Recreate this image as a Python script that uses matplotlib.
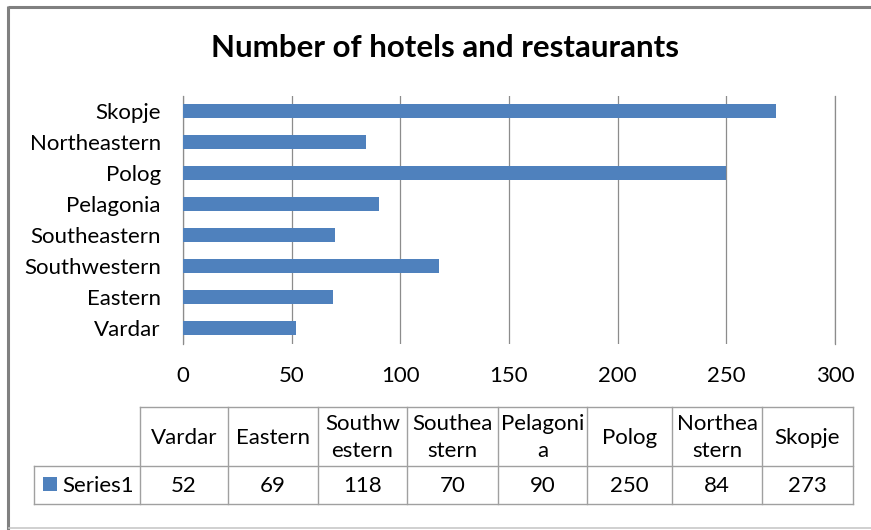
import matplotlib
matplotlib.use("Agg")
import matplotlib.pyplot as plt
from matplotlib.patches import Rectangle

categories = ["Vardar", "Eastern", "Southwestern", "Southeastern", "Pelagonia", "Polog", "Northeastern", "Skopje"]
table_headers = ["Vardar", "Eastern", "Southw\nestern", "Southea\nstern", "Pelagoni\na", "Polog", "Northea\nstern", "Skopje"]
values = [52, 69, 118, 70, 90, 250, 84, 273]
series_name = "Series1"
title = "Number of hotels and restaurants"
x_ticks = [0, 50, 100, 150, 200, 250, 300]

plt.rcParams['font.family'] = ['Lato', 'DejaVu Sans']
W, H = 871, 530
bar_color = "#4F81BD"
grid_color = "#8C8C8C"
text_color = "#000000"
fs = 16

fig = plt.figure(figsize=(W / 100, H / 100), dpi=100)

# frame overlay axes in pixel coordinates
ov = fig.add_axes([0, 0, 1, 1])
ov.set_xlim(0, W)
ov.set_ylim(H, 0)
ov.axis("off")
ov.plot([7.5, W], [7, 7], color="#808080", lw=2.2, solid_capstyle="butt")
ov.plot([7.5, 7.5], [6, H], color="#808080", lw=2.2, solid_capstyle="butt")
ov.plot([9, W], [528, 528], color="#C8C8C8", lw=1.2)

# main chart
px_l, px_r, px_t, px_b = 183, 835, 95.5, 343.5
ax = fig.add_axes([px_l / W, 1 - px_b / H, (px_r - px_l) / W, (px_b - px_t) / H])
ax.barh(range(len(categories)), values, height=0.46, color=bar_color, zorder=3)
ax.set_xlim(0, 300)
ax.set_ylim(-0.5, len(categories) - 0.5)
ax.set_xticks(x_ticks)
ax.set_xticklabels([str(t) for t in x_ticks], fontsize=fs)
ax.set_yticks(range(len(categories)))
ax.set_yticklabels(categories, fontsize=fs)
ax.tick_params(axis="both", length=0, colors=text_color)
ax.tick_params(axis="x", pad=16)
ax.tick_params(axis="y", pad=16)
ax.grid(axis="x", color=grid_color, lw=0.9, zorder=0)
for s in ["top", "bottom"]:
    ax.spines[s].set_visible(False)
ax.spines["left"].set_color(grid_color)
ax.spines["right"].set_color(grid_color)
ax.spines["left"].set_linewidth(0.9)
ax.spines["right"].set_linewidth(0.9)

# title
ov.text(445, 48, title, ha="center", va="center", fontsize=22.5, fontweight="bold", color=text_color)

# data table
col_x = [140, 228, 318, 407, 498, 587, 672, 762, 853]
row_head_left = 34
y_top, y_mid, y_bot = 407, 466, 504
lc = "#A0A0A0"
lw = 1.0
ov.plot([col_x[0], col_x[-1]], [y_top, y_top], color=lc, lw=lw)
ov.plot([row_head_left, col_x[-1]], [y_mid, y_mid], color=lc, lw=lw)
ov.plot([row_head_left, col_x[-1]], [y_bot, y_bot], color=lc, lw=lw)
for x in col_x:
    ov.plot([x, x], [y_top, y_bot], color=lc, lw=lw)
ov.plot([row_head_left, row_head_left], [y_mid, y_bot], color=lc, lw=lw)

for i in range(len(categories)):
    cx = (col_x[i] + col_x[i + 1]) / 2
    ov.text(cx, (y_top + y_mid) / 2 + 1, table_headers[i], ha="center", va="center",
            fontsize=fs, linespacing=1.45, color=text_color)
    ov.text(cx, (y_mid + y_bot) / 2 + 1, str(values[i]), ha="center", va="center",
            fontsize=fs, color=text_color)

ov.add_patch(Rectangle((43, 477), 14, 14, facecolor=bar_color, edgecolor="none"))
ov.text(62, (y_mid + y_bot) / 2 + 1, series_name, ha="left", va="center", fontsize=fs, color=text_color)

fig.savefig("out.png", dpi=100)
